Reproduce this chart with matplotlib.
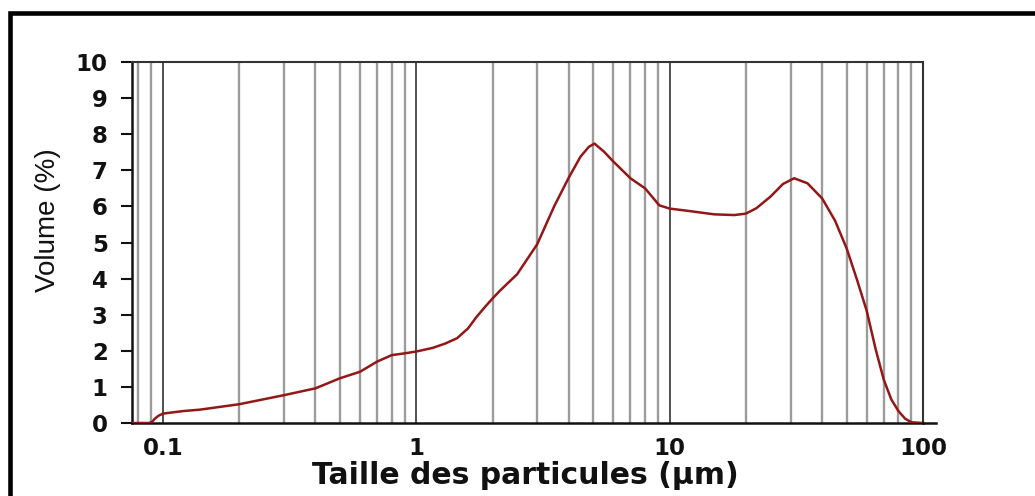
import matplotlib
matplotlib.use("Agg")
import matplotlib.pyplot as plt
from matplotlib.patches import Rectangle
from matplotlib.font_manager import FontProperties
from matplotlib.ticker import FixedLocator, NullFormatter

# particle size distribution
size_um = [0.0755, 0.088, 0.0905, 0.093, 0.096, 0.1, 0.12, 0.14, 0.2, 0.3,
           0.4, 0.5, 0.6, 0.7, 0.8, 0.9, 1.0, 1.16, 1.3, 1.45, 1.6, 1.73,
           1.87, 2.0, 2.15, 2.5, 3.0, 3.5, 4.0, 4.45, 4.8, 5.05, 5.5, 6.0,
           7.0, 8.0, 8.5, 9.1, 10, 12, 15, 18, 20, 22,
           25, 28, 31, 35, 40, 45, 50, 55, 60, 65,
           70, 75, 80, 85, 90, 100]
volume_pct = [0, 0, 0.03, 0.12, 0.2, 0.26, 0.33, 0.37, 0.52, 0.77,
              0.96, 1.24, 1.42, 1.70, 1.88, 1.93, 1.98, 2.08, 2.2, 2.35, 2.62, 2.94,
              3.22, 3.45, 3.68, 4.12, 4.95, 6.0, 6.8, 7.38, 7.65, 7.74, 7.52, 7.24,
              6.78, 6.5, 6.28, 6.03, 5.94, 5.87, 5.78, 5.76, 5.80, 5.95,
              6.27, 6.62, 6.78, 6.64, 6.22, 5.6, 4.83, 3.95, 3.1, 2.05,
              1.2, 0.65, 0.33, 0.12, 0.02, 0]

x_ticks = [0.1, 1, 10, 100]
x_tick_labels = ["0.1", "1", "10", "100"]
y_ticks = list(range(0, 11))
grid_minor = [0.08, 0.09] + [k / 10 for k in range(2, 10)] + list(range(2, 10)) + list(range(20, 100, 10))
grid_major = [0.1, 1, 10]

W, H = 1035, 496
fig = plt.figure(figsize=(W / 100, H / 100), dpi=100, facecolor="white")
ax = fig.add_axes([132 / W, 1 - 423 / H, (923 - 132) / W, (423 - 62) / H])

for g in grid_minor:
    ax.axvline(g, color="#9c9c9c", linewidth=1.7, zorder=1)
for g in grid_major:
    ax.axvline(g, color="#505050", linewidth=1.4, zorder=1)

ax.plot(size_um, volume_pct, color="#921717", linewidth=1.8, zorder=3)

ax.set_xscale("log")
ax.set_xlim(0.0755, 100)
ax.set_ylim(0, 10)

ax.xaxis.set_major_locator(FixedLocator(x_ticks))
ax.xaxis.set_minor_locator(FixedLocator([]))
ax.xaxis.set_minor_formatter(NullFormatter())
ax.set_xticks(x_ticks, x_tick_labels)
ax.set_yticks(y_ticks)

tick_font = FontProperties(family=["DejaVu Sans"], weight="bold", size=16.5)
for lab in ax.get_xticklabels() + ax.get_yticklabels():
    lab.set_fontproperties(tick_font)

ax.tick_params(axis="x", length=0, pad=10, colors="#111111")
ax.tick_params(axis="y", length=8, width=1.5, pad=9.5, direction="out", colors="#111111")
ax.tick_params(which="minor", length=0)

for side in ["left", "bottom"]:
    ax.spines[side].set_color("#111111")
    ax.spines[side].set_linewidth(1.8)
for side in ["top", "right"]:
    ax.spines[side].set_color("#333333")
    ax.spines[side].set_linewidth(1.5)

# bottom axis line runs a little past the right spine
ax.plot([1.0, 1.0 + 13 / 791], [0, 0], transform=ax.transAxes, color="#111111",
        linewidth=1.8, clip_on=False, zorder=4)

ax.set_xlabel("Taille des particules (µm)", fontsize=21.5, fontweight="bold",
              family=["DejaVu Sans"], color="#111111")
ax.xaxis.set_label_coords(0.497, -0.105)
ax.set_ylabel("Volume (%)", fontsize=20, family=["Liberation Sans", "DejaVu Sans"],
              color="#111111")
ax.yaxis.set_label_coords(-0.09, 0.562)

# thick outer frame, cut by the right and bottom edges of the picture
fig.patches.append(Rectangle((10, H - 12.5 - 600), 1100, 600, transform=None, fill=False,
                             edgecolor="black", linewidth=3.3, zorder=0))

fig.savefig("out.png", dpi=100, facecolor="white")
